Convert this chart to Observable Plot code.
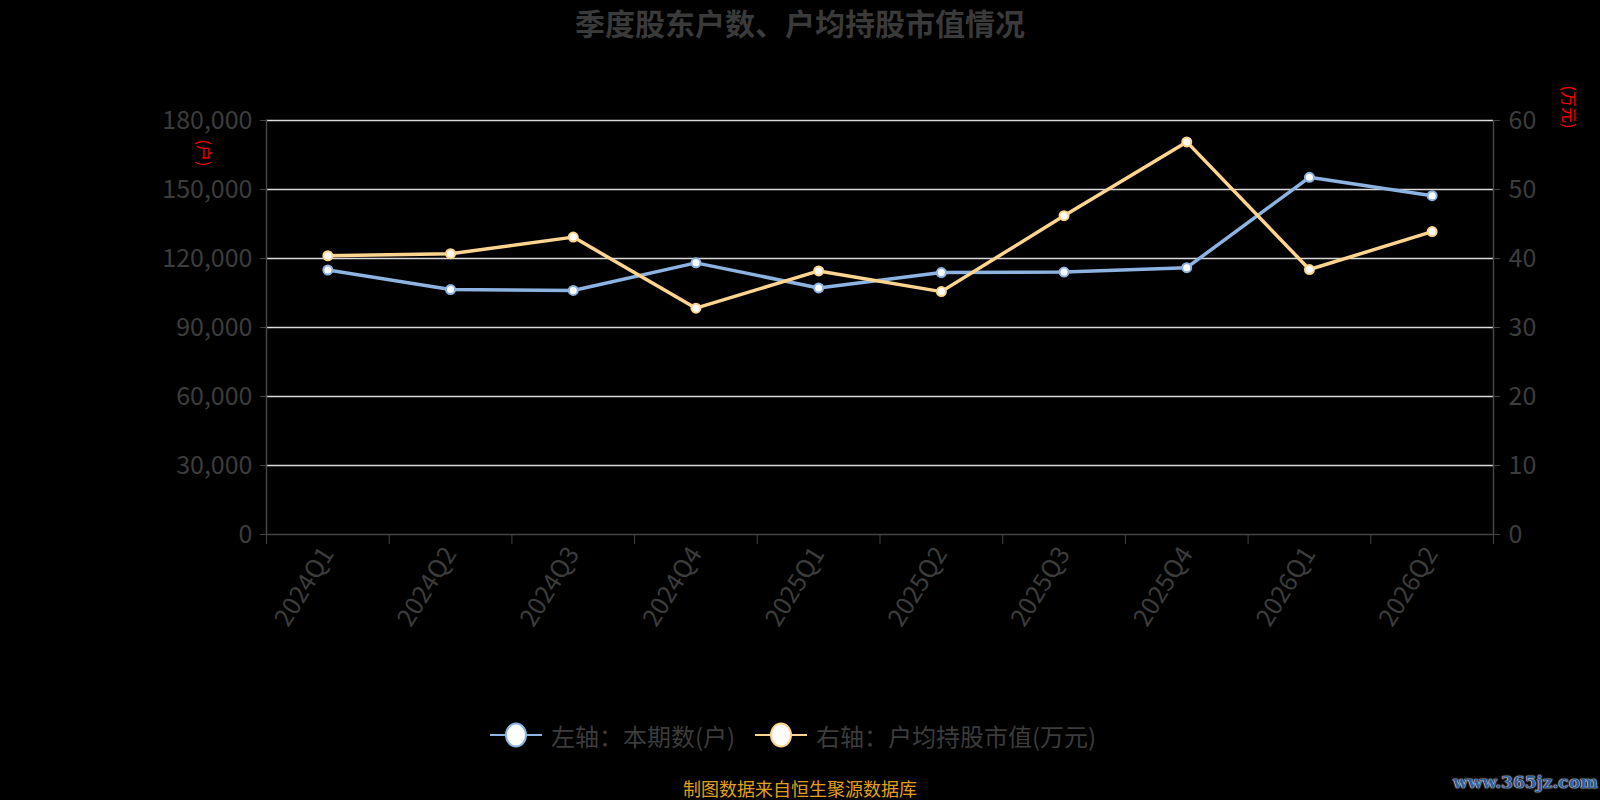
<!DOCTYPE html>
<html>
<head>
<meta charset="utf-8">
<script src="https://cdn.jsdelivr.net/npm/d3@7"></script>
<script src="https://cdn.jsdelivr.net/npm/@observablehq/plot@0.6"></script>
<style>
  html, body { margin: 0; padding: 0; background: #000; }
  #wrap { position: relative; width: 1600px; height: 800px; background: #000; overflow: hidden;
          font-family: "Noto Sans CJK SC", "Noto Sans", sans-serif; }
  #chart { position: absolute; left: 0; top: 0; }
  .abs { position: absolute; white-space: nowrap; }
  #title { left: 0; width: 1600px; top: 2px; text-align: center; font-size: 30px; font-weight: bold; color: #3a3a3a; line-height: 40px; }
  .axname { color: #ff0000; font-size: 16px; transform: rotate(90deg); transform-origin: center center; line-height: 18px; }
  .leg { top: 718px; height: 34px; display: flex; align-items: center; font-size: 24px; color: #3c3c3c; }
  #caption { left: 0; width: 1600px; top: 778px; text-align: center; font-size: 18px; color: #e0a01e; line-height: 20px; }
  #wm { right: 2px; top: 772px; font-size: 17px; font-weight: bold; color: #2f5f9f; text-shadow: 0 0 2px #fff, 0 0 1px #fff; font-family: "DejaVu Serif", serif; }
</style>
</head>
<body>
<div id="wrap">
  <div id="chart"></div>
  <div id="title" class="abs">季度股东户数、户均持股市值情况</div>
  <div class="abs axname" style="left:192px; top:144px;">(户)</div>
  <div class="abs axname" style="left:1549px; top:98px;">(万元)</div>
  <div id="leg1" class="abs leg" style="left:490px;"></div>
  <div id="leg2" class="abs leg" style="left:755px;"></div>
  <div id="caption" class="abs">制图数据来自恒生聚源数据库</div>
  <div id="wm" class="abs">www.365jz.com</div>
</div>
<script>
// ---- data ----
const quarters = ["2024Q1","2024Q2","2024Q3","2024Q4","2025Q1","2025Q2","2025Q3","2025Q4","2026Q1","2026Q2"];
const holders = [115000, 106500, 106100, 118100, 107200, 113900, 114100, 116000, 155300, 147300];
const avgValue = [40.4, 40.7, 43.1, 32.8, 38.2, 35.2, 46.2, 56.9, 38.4, 43.9];
const leftTicks = [0, 30000, 60000, 90000, 120000, 150000, 180000];
const rightMax = 60;
const leftMax = 180000;
const seriesNames = ["左轴：本期数(户)", "右轴：户均持股市值(万元)"];
const seriesColors = ["#8db3e2", "#fdd58e"];

const ratio = leftMax / rightMax;
const n = quarters.length;
const rows1 = quarters.map((q, i) => ({i, v: holders[i]}));
const rows2 = quarters.map((q, i) => ({i, v: avgValue[i] * ratio}));
const axisColor = "#444";
const textColor = "#3c3c3c";

const chart = Plot.plot({
  width: 1600,
  height: 800,
  marginTop: 120,
  marginBottom: 266,
  marginLeft: 266,
  marginRight: 107,
  style: { background: "transparent", fontFamily: "'Noto Sans CJK SC', 'Noto Sans', sans-serif", overflow: "visible" },
  x: { type: "linear", domain: [-0.5, n - 0.5], axis: null },
  y: { domain: [0, leftMax], axis: null },
  marks: [
    Plot.gridY(leftTicks.filter(d => d > 0), { stroke: "#d9d9d9", strokeOpacity: 1, strokeWidth: 1.5 }),
    Plot.ruleY([0], { stroke: axisColor, strokeWidth: 1.5 }),
    Plot.ruleX([-0.5, n - 0.5], { stroke: axisColor, strokeWidth: 1.5 }),
    Plot.axisY({ anchor: "left", ticks: leftTicks, tickFormat: d3.format(","), tickSize: 6, tickPadding: 8,
                 fontSize: 25, stroke: axisColor, fill: textColor, label: null }),
    Plot.axisY({ anchor: "right", ticks: leftTicks, tickFormat: d => d3.format("d")(d / ratio), tickSize: 6, tickPadding: 9,
                 fontSize: 25, stroke: axisColor, fill: textColor, label: null }),
    Plot.axisX({ ticks: d3.range(-0.5, n, 1), tickFormat: () => "", tickSize: 10, stroke: axisColor, label: null }),
    Plot.axisX({ ticks: d3.range(n), tickFormat: i => quarters[i], tickSize: 0, tickPadding: 15, tickRotate: -58,
                 fontSize: 25, fill: textColor, label: null }),
    Plot.line(rows1, { x: "i", y: "v", stroke: seriesColors[0], strokeWidth: 3.5 }),
    Plot.line(rows2, { x: "i", y: "v", stroke: seriesColors[1], strokeWidth: 3.5 }),
    Plot.dot(rows1, { x: "i", y: "v", r: 4.5, fill: "#fff", stroke: seriesColors[0], strokeWidth: 2 }),
    Plot.dot(rows2, { x: "i", y: "v", r: 4.5, fill: "#fff", stroke: seriesColors[1], strokeWidth: 2 })
  ]
});
document.getElementById("chart").appendChild(chart);

// legend
function legendItem(id, name, color) {
  const el = document.getElementById(id);
  el.innerHTML = `<svg width="52" height="34" style="margin-right:9px"><line x1="0" x2="52" y1="17" y2="17" stroke="${color}" stroke-width="2"/><ellipse cx="26" cy="17" rx="10" ry="11.5" fill="#fff" stroke="${color}" stroke-width="2"/></svg><span>${name}</span>`;
}
legendItem("leg1", seriesNames[0], seriesColors[0]);
legendItem("leg2", seriesNames[1], seriesColors[1]);
</script>
</body>
</html>
